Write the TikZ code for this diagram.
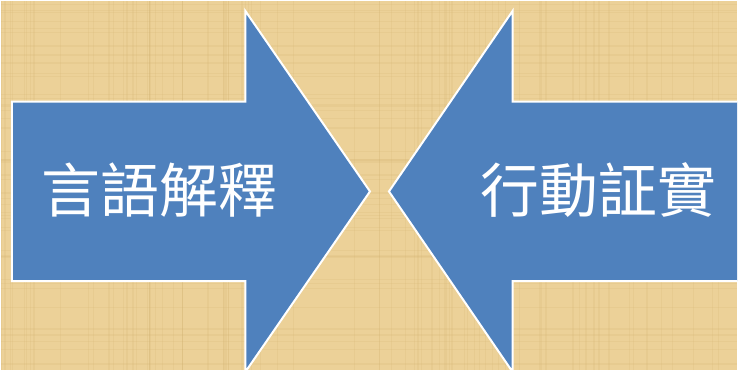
\documentclass[tikz,border=0pt]{standalone}
\usepackage{fontspec}
\newfontfamily\cjk{Noto Sans CJK TC}
\usepackage{xcolor}
\usetikzlibrary{positioning}

\definecolor{papyrus}{HTML}{ECD198}
\definecolor{papyrusdark}{HTML}{D2B070}
\definecolor{arrowblue}{HTML}{4F81BD}

\begin{document}
\begin{tikzpicture}[
    x=1pt, y=1pt,
    bigarrow/.style={draw=white, line width=2pt, fill=arrowblue, line join=miter},
    grain/.style={papyrusdark, opacity=0.18},
    label/.style={text=white, font=\cjk\fontsize{59}{64}\selectfont, inner sep=0pt}
]

% background
\fill[papyrus] (0,0) rectangle (738,370);
\pgfmathsetseed{11}
\foreach \i in {1,...,90} {
    \pgfmathsetmacro{\gx}{rnd*738}
    \pgfmathsetmacro{\gw}{0.3+rnd*1.5}
    \draw[grain, line width=\gw pt] (\gx,0) -- (\gx,370);
}
\foreach \i in {1,...,50} {
    \pgfmathsetmacro{\gy}{rnd*370}
    \pgfmathsetmacro{\gw}{0.3+rnd*1.5}
    \draw[grain, line width=\gw pt] (0,\gy) -- (738,\gy);
}
\useasboundingbox (0,0) rectangle (738,370);
\clip (0,0) rectangle (738,370);

% arrows
\draw[bigarrow] (11,89) -- (11,269) -- (245,269) -- (245,360) -- (370,179)
    -- (245,-2) -- (245,89) -- cycle;
\draw[bigarrow] (389,179) -- (513,360) -- (513,269) -- (745,269)
    -- (745,89) -- (513,89) -- (513,-2) -- cycle;

% labels
\node[label] (words) at (159,180) {言語解釋};
\node[label] (deeds) at (599,180) {行動証實};

\end{tikzpicture}
\end{document}
